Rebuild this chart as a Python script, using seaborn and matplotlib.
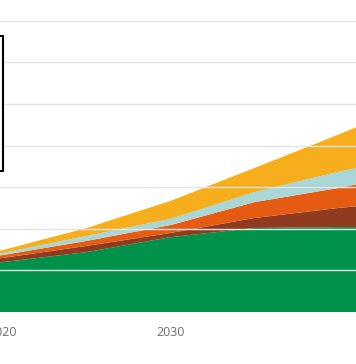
import matplotlib
matplotlib.use('Agg')
import matplotlib.pyplot as plt
import matplotlib.patches as mpatches
import seaborn as sns

# stacked layers (bottom to top)
years = [2015, 2020, 2025, 2030, 2035, 2040, 2045]
green = [101, 120, 144, 180, 202, 204, 204]
brown = [5, 10, 15, 10, 24, 46, 65]
orange = [2, 7, 12, 19, 38, 48, 68]
light_blue = [3, 5, 12, 15, 24, 39, 40]
yellow = [2, 7, 19, 43, 58, 89, 133]

tick_years = [2020, 2030]
tick_labels = ['2020', '2030']

colors = ['#00924a', '#8e3b1f', '#e55b12', '#a9d6d6', '#f6ae1c']

sns.set_theme(style='white')
plt.rcParams['font.family'] = ['Open Sans', 'DejaVu Sans']

fig = plt.figure(figsize=(3.56, 3.64), dpi=100)
ax = fig.add_axes([0, 52 / 364, 1, 312 / 364])

ax.stackplot(years, green, brown, orange, light_blue, yellow,
             colors=colors, linewidth=0, zorder=1)

ax.set_xlim(2019.82, 2041.07)
ax.set_ylim(0, 750)
ax.set_yticks(range(100, 800, 100))
ax.set_yticklabels([])
ax.yaxis.grid(True, color='#e4e4e4', linewidth=1)
ax.set_axisbelow(False)
for line in ax.get_ygridlines():
    line.set_zorder(2)

ax.set_xticks(tick_years)
ax.set_xticklabels(tick_labels)
ax.tick_params(axis='x', length=0, pad=10, labelsize=9, labelcolor='#6e6e6e')
ax.tick_params(axis='y', length=0)
sns.despine(ax=ax, left=True, bottom=True)

# partial frame of the box cut at the left edge
box = mpatches.Rectangle((-0.02, 0.452), 0.029, 0.433, transform=ax.transAxes,
                         facecolor='white', edgecolor='black', linewidth=1.5,
                         clip_on=False, zorder=5)
ax.add_patch(box)

fig.savefig('out.png', dpi=100)
